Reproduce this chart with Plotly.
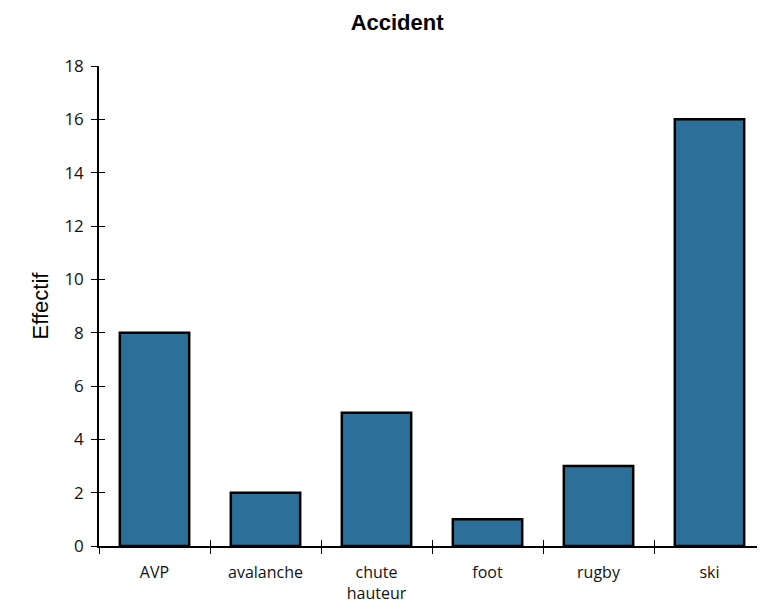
import plotly.graph_objects as go

categories = ["AVP", "avalanche", "chute<br>hauteur", "foot", "rugby", "ski"]
effectif = [8, 2, 5, 1, 3, 16]
y_ticks = [0, 2, 4, 6, 8, 10, 12, 14, 16, 18]

bar_color = "#2b7099"
xtick_font = dict(family="Open Sans, sans-serif", size=16, color="#111111")
ytick_font = dict(family="Open Sans, sans-serif", size=17, color="#111111")

fig = go.Figure()
fig.add_trace(go.Bar(
    x=categories, y=effectif,
    marker=dict(color=bar_color, line=dict(color="black", width=2.5)),
    xaxis="x", yaxis="y", hoverinfo="skip",
))
# invisible twin trace to drive the inner halves of the crossing ticks
fig.add_trace(go.Bar(
    x=categories, y=effectif,
    marker=dict(color="rgba(0,0,0,0)", line=dict(width=0, color="rgba(0,0,0,0)")),
    xaxis="x2", yaxis="y2", hoverinfo="skip", showlegend=False,
))
# empty trace carrying the top gridline axis
fig.add_trace(go.Scatter(x=[], y=[], xaxis="x", yaxis="y3", showlegend=False))

fig.update_layout(
    template="none",
    width=757, height=597,
    margin=dict(l=91, r=0, t=58, b=59, autoexpand=False),
    paper_bgcolor="white", plot_bgcolor="white",
    showlegend=False,
    bargap=0.375,
    title=dict(text="<b>Accident</b>", x=0.514, xref="container", xanchor="center",
               y=(597 - 14) / 597, yref="container", yanchor="middle",
               font=dict(family="Liberation Sans, Arial, sans-serif", size=22, color="black")),
    xaxis=dict(
        type="category", showline=True, linecolor="black", linewidth=1.5,
        ticks="outside", ticklen=6, tickwidth=1.2, tickcolor="black", tickson="boundaries",
        tickfont=xtick_font, showgrid=False, zeroline=False, automargin=False,
        ticklabelstandoff=11,
    ),
    xaxis2=dict(
        type="category", overlaying="x", side="bottom", matches="x",
        showline=False, ticks="inside", ticklen=6, tickwidth=1.2, tickcolor="black",
        tickson="boundaries", showticklabels=False, showgrid=False, zeroline=False,
        automargin=False,
    ),
    yaxis=dict(
        range=[0, 18], tickvals=y_ticks, showline=True, linecolor="black", linewidth=1.5,
        ticks="outside", ticklen=6, tickwidth=1.2, tickcolor="black",
        tickfont=ytick_font, showgrid=False, zeroline=False, automargin=False,
        ticklabelstandoff=4,
        title=dict(text="Effectif", standoff=10,
                   font=dict(family="Liberation Sans, Arial, sans-serif", size=22, color="black")),
    ),
    yaxis2=dict(
        range=[0, 18], tickvals=y_ticks, overlaying="y", side="left",
        showline=False, ticks="inside", ticklen=6, tickwidth=1.2, tickcolor="black",
        showticklabels=False, showgrid=False, zeroline=False, automargin=False,
    ),
    yaxis3=dict(
        range=[0, 18], tickvals=[18], overlaying="y", side="right",
        showline=False, ticks="", showticklabels=False, automargin=False,
        showgrid=True, gridcolor="#c0c0c0", gridwidth=2, zeroline=False,
    ),
)

fig.write_html("out.html")
